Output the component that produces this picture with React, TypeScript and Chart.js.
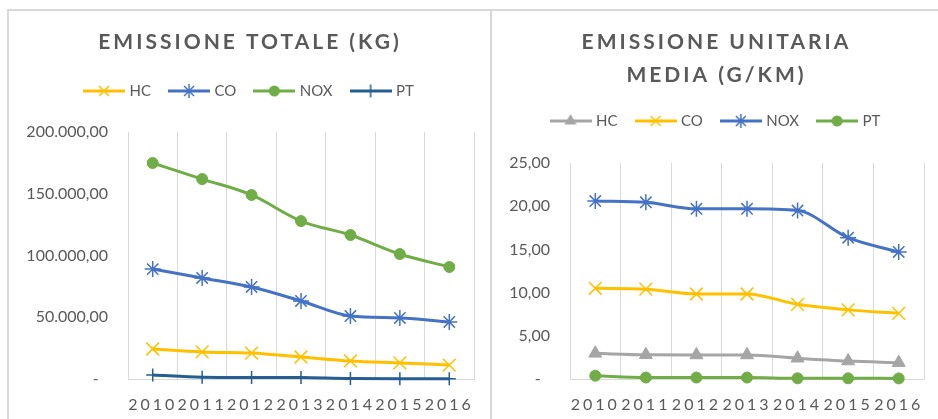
import React, { useEffect, useRef } from 'react';
import { Chart, registerables } from 'chart.js';

Chart.register(...registerables);

// ---------- data ----------
const years = ['2010', '2011', '2012', '2013', '2014', '2015', '2016'];

// Emissione totale (kg)
const totalHC = [24300, 21900, 21000, 17800, 14600, 13000, 11300];
const totalCO = [89000, 81800, 74500, 63200, 51000, 49400, 46200];
const totalNOX = [174900, 161900, 149000, 127900, 116600, 101200, 90700];
const totalPT = [3200, 1500, 1300, 1200, 400, 300, 300];
const totalMax = 200000;
const totalStep = 50000;

// Emissione unitaria media (g/km)
const unitHC = [2.97, 2.8, 2.78, 2.78, 2.4, 2.08, 1.89];
const unitCO = [10.5, 10.4, 9.84, 9.84, 8.64, 8.0, 7.6];
const unitNOX = [20.6, 20.45, 19.7, 19.7, 19.5, 16.35, 14.7];
const unitPT = [0.38, 0.17, 0.17, 0.17, 0.08, 0.08, 0.07];
const unitMax = 25;
const unitStep = 5;

const titleTotal = 'EMISSIONE TOTALE (KG)';
const titleUnit = ['EMISSIONE UNITARIA', 'MEDIA (G/KM)'];

// ---------- style ----------
const GOLD = '#FFC000';
const BLUE = '#4472C4';
const GREEN = '#70AD47';
const NAVY = '#255E91';
const GRAY = '#A5A5A5';
const TEXT = '#595959';
const GRID = '#D9D9D9';
const FONT = 'Lato, "Open Sans", sans-serif';

type MarkerKind = 'crossRot' | 'star' | 'circle' | 'cross' | 'triangle';
interface Series {
  label: string;
  data: number[];
  color: string;
  marker: MarkerKind;
  size: number;
}

const totalSeries: Series[] = [
  { label: 'HC', data: totalHC, color: GOLD, marker: 'crossRot', size: 9 },
  { label: 'CO', data: totalCO, color: BLUE, marker: 'star', size: 8 },
  { label: 'NOX', data: totalNOX, color: GREEN, marker: 'circle', size: 5.5 },
  { label: 'PT', data: totalPT, color: NAVY, marker: 'cross', size: 6.5 },
];

const unitSeries: Series[] = [
  { label: 'HC', data: unitHC, color: GRAY, marker: 'triangle', size: 7.5 },
  { label: 'CO', data: unitCO, color: GOLD, marker: 'crossRot', size: 9 },
  { label: 'NOX', data: unitNOX, color: BLUE, marker: 'star', size: 8 },
  { label: 'PT', data: unitPT, color: GREEN, marker: 'circle', size: 5.5 },
];

function fmtIt(v: number): string {
  if (v === 0) return '-\u2007';
  const [i, d] = Math.abs(v).toFixed(2).split('.');
  const ii = i.replace(/\B(?=(\d{3})+(?!\d))/g, '.');
  return (v < 0 ? '-' : '') + ii + ',' + d;
}

function drawMarker(ctx: CanvasRenderingContext2D, m: MarkerKind, x: number, y: number, r: number, color: string) {
  ctx.save();
  ctx.strokeStyle = color;
  ctx.fillStyle = color;
  ctx.lineWidth = 1.5;
  ctx.beginPath();
  const d = r * Math.SQRT1_2;
  if (m === 'crossRot' || m === 'star') {
    ctx.moveTo(x - d, y - d); ctx.lineTo(x + d, y + d);
    ctx.moveTo(x - d, y + d); ctx.lineTo(x + d, y - d);
  }
  if (m === 'cross' || m === 'star') {
    ctx.moveTo(x, y - r); ctx.lineTo(x, y + r);
    ctx.moveTo(x - r, y); ctx.lineTo(x + r, y);
  }
  if (m === 'crossRot' || m === 'star' || m === 'cross') ctx.stroke();
  if (m === 'circle') {
    ctx.arc(x, y, r, 0, Math.PI * 2);
    ctx.fill();
  }
  if (m === 'triangle') {
    const h = r * Math.sqrt(3) / 2;
    ctx.moveTo(x, y - r);
    ctx.lineTo(x + h, y + r / 2);
    ctx.lineTo(x - h, y + r / 2);
    ctx.closePath();
    ctx.fill();
  }
  ctx.restore();
}

function legendIcon(s: Series): HTMLCanvasElement {
  const c = document.createElement('canvas');
  c.width = 42;
  c.height = 18;
  const ctx = c.getContext('2d')!;
  ctx.strokeStyle = s.color;
  ctx.lineWidth = 3;
  ctx.beginPath();
  ctx.moveTo(0, 9);
  ctx.lineTo(42, 9);
  ctx.stroke();
  drawMarker(ctx, s.marker, 21, 9, Math.min(s.size, 7), s.color);
  return c;
}

const excelLook = {
  id: 'excelLook',
  defaults: { legendExtra: 0, titleSpacing: '0px', tickSpacing: '0px' },
  beforeInit(chart: any, _args: any, opts: any) {
    const lg = chart.legend;
    if (lg) {
      const fit = lg.fit;
      lg.fit = function () {
        fit.call(this);
        this.height += opts.legendExtra || 0;
      };
    }
  },
  beforeDraw(chart: any, _args: any, opts: any) {
    const wrap = (obj: any, key: string, spacing: string) => {
      if (!obj || obj['__ls_' + key]) return;
      const orig = obj[key];
      obj[key] = function (...a: any[]) {
        const ctx = this.ctx as any;
        ctx.save();
        ctx.letterSpacing = spacing;
        const r = orig.apply(this, a);
        ctx.restore();
        return r;
      };
      obj['__ls_' + key] = true;
    };
    wrap(chart.titleBlock, 'draw', opts.titleSpacing);
    wrap(chart.scales.x, 'drawLabels', opts.tickSpacing);
  },
};

interface Cfg {
  series: Series[];
  title: string | string[];
  titleLineHeight: number;
  titlePad: { top: number; bottom: number };
  legendExtra: number;
  max: number;
  step: number;
  yWidth: number;
  padLeft: number;
  padRight: number;
}

function makeConfig(c: Cfg): any {
  const icons = c.series.map(legendIcon);
  return {
    type: 'line',
    data: {
      labels: years,
      datasets: c.series.map((s) => ({
        label: s.label,
        data: s.data,
        borderColor: s.color,
        backgroundColor: s.color,
        borderWidth: 3,
        pointStyle: s.marker,
        pointRadius: s.size,
        pointHoverRadius: s.size,
        pointBorderWidth: s.marker === 'circle' || s.marker === 'triangle' ? 1 : 1.5,
        pointBackgroundColor: s.color,
        pointBorderColor: s.color,
        cubicInterpolationMode: 'monotone',
        clip: false,
        borderJoinStyle: 'round',
      })),
    },
    options: {
      animation: false,
      responsive: true,
      maintainAspectRatio: false,
      layout: { padding: { left: c.padLeft, right: c.padRight, top: 0, bottom: 0 } },
      font: { family: FONT },
      plugins: {
        title: {
          display: true,
          text: c.title,
          color: TEXT,
          font: { family: FONT, size: 21, weight: 'bold', lineHeight: c.titleLineHeight },
          padding: c.titlePad,
        },
        legend: {
          display: true,
          position: 'top',
          labels: {
            color: TEXT,
            font: { family: FONT, size: 15 },
            usePointStyle: true,
            pointStyleWidth: 36,
            padding: 20,
            generateLabels: (chart: any) => {
              const items = (Chart.defaults as any).plugins.legend.labels.generateLabels(chart);
              return items.map((it: any) => ({ ...it, pointStyle: icons[it.datasetIndex], fontColor: TEXT }));
            },
          },
        },
        tooltip: { enabled: false },
        excelLook: { legendExtra: c.legendExtra, titleSpacing: '3px', tickSpacing: '3px' },
      },
      scales: {
        x: {
          offset: true,
          grid: { display: true, offset: true, color: GRID, lineWidth: 1, drawTicks: false },
          border: { display: true, color: GRID, width: 1 },
          ticks: {
            color: TEXT,
            font: { family: FONT, size: 16 },
            padding: 16,
            autoSkip: false,
            maxRotation: 0,
            minRotation: 0,
          },
          afterFit: (s: any) => {
            s.height = 40;
          },
        },
        y: {
          min: 0,
          max: c.max,
          grid: { display: false, drawTicks: false },
          border: { display: false },
          ticks: {
            stepSize: c.step,
            color: TEXT,
            font: { family: FONT, size: 16 },
            padding: 20,
            callback: (v: any) => fmtIt(Number(v)),
          },
          afterFit: (s: any) => {
            s.width = c.yWidth;
          },
        },
      },
    },
    plugins: [excelLook],
  };
}

function ChartBox(props: { cfg: Cfg; left: number; top: number; width: number; height: number }) {
  const ref = useRef<HTMLCanvasElement>(null);
  useEffect(() => {
    const chart = new Chart(ref.current!, makeConfig(props.cfg));
    return () => chart.destroy();
  }, []);
  return (
    <div
      style={{
        position: 'absolute',
        left: props.left,
        top: props.top,
        width: props.width,
        height: props.height,
      }}
    >
      <canvas ref={ref} />
    </div>
  );
}

const totalCfg: Cfg = {
  series: totalSeries,
  title: titleTotal,
  titleLineHeight: 1.2,
  titlePad: { top: 19, bottom: 8.3 },
  legendExtra: 23.5,
  max: totalMax,
  step: totalStep,
  yWidth: 102,
  padLeft: 16,
  padRight: 16,
};

const unitCfg: Cfg = {
  series: unitSeries,
  title: titleUnit,
  titleLineHeight: 33 / 21,
  titlePad: { top: 14.5, bottom: 2 },
  legendExtra: 24.5,
  max: unitMax,
  step: unitStep,
  yWidth: 61,
  padLeft: 16,
  padRight: 14,
};

export default function App() {
  return (
    <div
      style={{
        position: 'fixed',
        left: 0,
        top: 0,
        width: 938,
        height: 419,
        overflow: 'hidden',
        background: '#fff',
        fontFamily: FONT,
      }}
    >
      <div style={{ position: 'absolute', left: 7, top: 9, width: 931, height: 2, background: GRID }} />
      <div style={{ position: 'absolute', left: 7, top: 9, width: 2, height: 410, background: GRID }} />
      <div style={{ position: 'absolute', left: 490, top: 11, width: 2, height: 408, background: GRID }} />
      <ChartBox cfg={totalCfg} left={10} top={11} width={480} height={408} />
      <ChartBox cfg={unitCfg} left={493} top={11} width={445} height={408} />
    </div>
  );
}
